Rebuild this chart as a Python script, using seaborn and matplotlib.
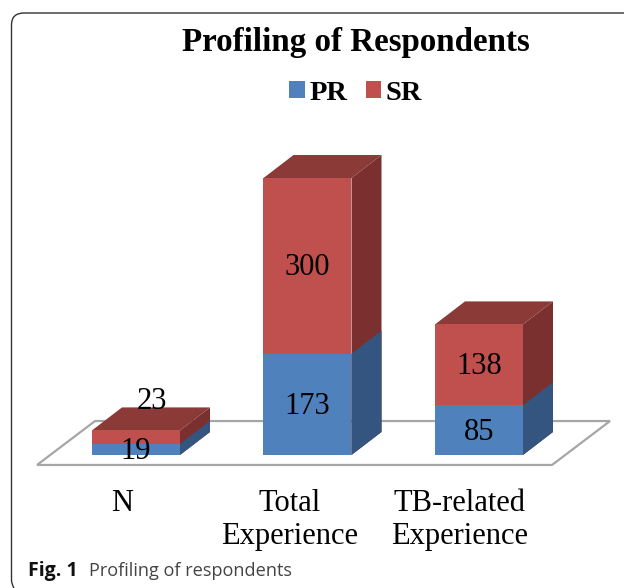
import matplotlib.pyplot as plt
import seaborn as sns
from matplotlib.patches import Polygon, PathPatch
from matplotlib.path import Path
from matplotlib.transforms import Affine2D

categories = ["N", "Total\nExperience", "TB-related\nExperience"]
pr_values = [19, 173, 85]
sr_values = [23, 300, 138]
total_values = [p + s for p, s in zip(pr_values, sr_values)]

WIDTH, HEIGHT = 624, 588
BASE_PX = 455
UNIT_PX = 0.5856  # pixels per value unit
STEP_PX = 171.5  # pixels between categories
FIRST_PX = 136
DX = 30 / STEP_PX  # depth of the 3D look
DY = 23 / UNIT_PX

BLUE, BLUE_SIDE = "#4F81BD", "#345580"
RED, RED_SIDE, RED_TOP = "#C0504D", "#7A302E", "#8C3A38"
SERIF = "Liberation Serif"

sns.set_theme(style="white")
fig = plt.figure(figsize=(WIDTH / 100, HEIGHT / 100), dpi=100)
ax = fig.add_axes([0, (HEIGHT - BASE_PX) / HEIGHT, 1, BASE_PX / HEIGHT])

# total bar first, PR drawn over it gives the stack
sns.barplot(x=categories, y=total_values, color=RED, saturation=1, width=88 / STEP_PX,
            errorbar=None, label="SR", ax=ax, zorder=3, linewidth=0)
sns.barplot(x=categories, y=pr_values, color=BLUE, saturation=1, width=88 / STEP_PX,
            errorbar=None, label="PR", ax=ax, zorder=3, linewidth=0)

ax.set_xlim(-FIRST_PX / STEP_PX, (WIDTH - FIRST_PX) / STEP_PX)
ax.set_ylim(0, BASE_PX / UNIT_PX)
ax.set(xlabel="", ylabel="", yticks=[])
sns.despine(ax=ax, left=True, bottom=True)

# floor of the chart
floor = Polygon([(-0.577, -17), (2.426, -17), (2.764, 58), (-0.239, 58)], closed=True,
                facecolor="white", edgecolor="#A6A6A6", lw=1.6, clip_on=False, zorder=1)
ax.add_patch(floor)

# side and top faces, taken from the bars seaborn drew
total_bars, pr_bars = ax.containers
for bar in total_bars:
    x0, x1, h = bar.get_x(), bar.get_x() + bar.get_width(), bar.get_height()
    ax.add_patch(Polygon([(x1, 0), (x1 + DX, DY), (x1 + DX, h + DY), (x1, h)], color=RED_SIDE, lw=0, zorder=2))
    ax.add_patch(Polygon([(x0, h), (x1, h), (x1 + DX, h + DY), (x0 + DX, h + DY)], color=RED_TOP, lw=0, zorder=2))
for bar in pr_bars:
    x1, h = bar.get_x() + bar.get_width(), bar.get_height()
    ax.add_patch(Polygon([(x1, 0), (x1 + DX, DY), (x1 + DX, h + DY), (x1, h)], color=BLUE_SIDE, lw=0, zorder=2.5))

# value labels
for i, (p, s) in enumerate(zip(pr_values, sr_values)):
    ax.annotate(str(p), (i, p / 2), xytext=(0, -1.5), textcoords="offset points", ha="center", va="center",
                family=SERIF, fontsize=22, color="black", zorder=5)
    offset = (11.5, 25.5) if i == 0 else (0, -1.5)  # the N label sits above the bar
    ax.annotate(str(s), (i, p + s / 2), xytext=offset, textcoords="offset points", ha="center", va="center",
                family=SERIF, fontsize=22, color="black", zorder=5)

# category labels sit a little left of their bars
ax.set_xticks([-0.082, 0.898, 1.889])
ax.set_xticklabels(categories)
ax.tick_params(axis="x", length=0, pad=24.5, labelsize=22)
for label in ax.get_xticklabels():
    label.set_family(SERIF)
    label.set_color("black")
    label.set_linespacing(1.2)

fig.text(355.5 / WIDTH, 1 - 43 / HEIGHT, "Profiling of Respondents", family=SERIF, fontweight="bold",
         fontsize=23.8, ha="center", va="center", color="black")

handles = [pr_bars[0], total_bars[0]]
ax.legend(handles, ["PR", "SR"], ncol=2, frameon=False, loc="center", bbox_to_anchor=(355.5 / WIDTH, 1 - 93 / HEIGHT),
          bbox_transform=fig.transFigure, prop={"family": SERIF, "weight": "bold", "size": 20.5},
          labelcolor="black", handlelength=0.56, handleheight=0.56, handletextpad=0.15, columnspacing=0.65)

# journal frame and caption
px = Affine2D().scale(1, -1).translate(0, HEIGHT)
frame = Path([(14, 588), (11.5, 584), (11.5, 580), (11.5, 25), (11.5, 13), (24, 13), (WIDTH, 13)],
             [Path.MOVETO, Path.CURVE3, Path.CURVE3, Path.LINETO, Path.CURVE3, Path.CURVE3, Path.LINETO])
fig.add_artist(PathPatch(frame, facecolor="none", edgecolor="#333333", lw=1.0, transform=px))
fig.text(28 / WIDTH, 1 - 571 / HEIGHT, "Fig. 1", family="Open Sans", fontweight="bold", fontsize=14,
         ha="left", va="center", color="#111111")
fig.text(89 / WIDTH, 1 - 571 / HEIGHT, "Profiling of respondents", family="Open Sans", fontsize=13.1,
         ha="left", va="center", color="#444444")

fig.savefig("out.png", dpi=100)
